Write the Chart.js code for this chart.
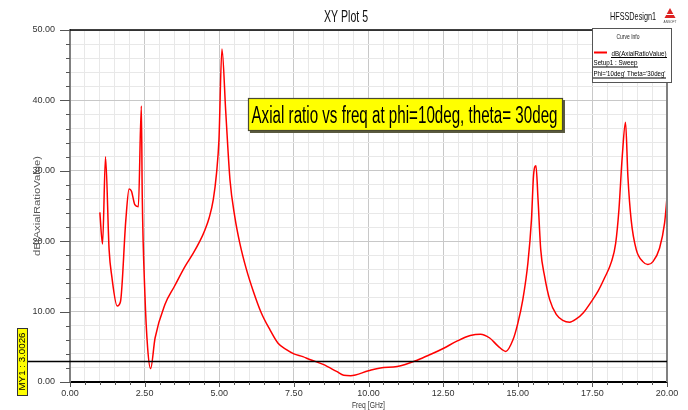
<!DOCTYPE html>
<html>
<head>
<meta charset="utf-8">
<title>XY Plot 5</title>
<script src="https://cdn.jsdelivr.net/npm/chart.js@4.4.1/dist/chart.umd.min.js"></script>
<style>
    html, body { margin: 0; padding: 0; background: #fff; }
    canvas { display: block; }
</style>
</head>
<body>
<canvas id="arChart" width="688" height="410"></canvas>
<script>
/* ============================================================
  DATA
============================================================ */
const freqGHz = [
    1.00, 1.09, 1.19, 1.31, 1.40, 1.58, 1.69, 1.87, 1.98, 2.06,
    2.17, 2.29, 2.39, 2.42, 2.51, 2.60, 2.70, 2.85, 3.18, 3.50, 3.85,
    4.13, 4.35, 4.52, 4.66, 4.80, 4.91, 4.99, 5.09, 5.22, 5.36,
    5.52, 5.69, 5.91, 6.14, 6.41, 6.70, 6.97, 7.25, 7.50, 7.80,
    8.03, 8.48, 8.93, 9.17, 9.40, 10.00, 10.40, 10.96, 11.63, 12.07,
    12.52, 12.96, 13.41, 13.75, 14.06, 14.34, 14.60, 14.84, 15.00, 15.17,
    15.34, 15.46, 15.53, 15.61, 15.68, 15.77, 15.90, 16.07, 16.29, 16.51,
    16.74, 16.96, 17.19, 17.47, 17.69, 17.91, 18.14, 18.28, 18.39, 18.50,
    18.61, 18.69, 18.80, 18.97, 19.19, 19.36, 19.53, 19.75, 19.92, 20.00
];
const axialRatioDb = [
    24.1, 19.6, 32.0, 18.8, 15.0, 10.8, 11.4, 23.0, 27.4, 27.1,
    25.2, 24.9, 39.2, 26.6, 12.4, 4.9, 1.9, 6.25, 11.0, 13.6, 16.4,
    18.3, 20.0, 21.6, 23.3, 25.9, 29.7, 34.4, 47.3, 38.2, 28.7,
    23.5, 19.7, 16.0, 12.9, 9.8, 7.4, 5.5, 4.6, 4.0, 3.6,
    3.2, 2.5, 1.5, 0.95, 0.9, 1.6, 2.0, 2.2, 3.1, 3.9,
    4.8, 5.8, 6.6, 6.8, 6.25, 5.1, 4.35, 6.0, 8.3, 11.7,
    16.9, 23.1, 29.4, 30.7, 25.9, 18.8, 15.0, 11.7, 9.6, 8.75,
    8.5, 8.95, 9.8, 11.45, 12.9, 14.8, 17.1, 19.7, 24.5, 32.0,
    36.9, 29.2, 23.0, 18.8, 17.1, 16.7, 17.1, 19.0, 22.6, 26.2
];

const xMajorTicks = [0, 2.5, 5, 7.5, 10, 12.5, 15, 17.5, 20];
const yMajorTicks = [0, 10, 20, 30, 40, 50];

const markerName = 'MY1';
const markerValue = 3.0026;

const plotTitle = 'XY Plot 5';
const designName = 'HFSSDesign1';
const noteText = 'Axial ratio vs freq at phi=10deg, theta= 30deg';
const curveName = 'dB(AxialRatioValue)';
const legendLines = ['Setup1 : Sweep', "Phi='10deg' Theta='30deg'"];

const FONT = '"Liberation Sans Narrow", "Liberation Sans", Arial, sans-serif';

/* ============================================================
  HELPERS
============================================================ */
// text squeezed to a given width (HFSS draws narrow glyphs)
function fitText(ctx, text, x, y, size, width, align = 'left', rot = 0) {
    ctx.font = `${size}px ${FONT}`;
    const w = ctx.measureText(text).width;
    ctx.save();
    ctx.translate(x, y);
    if (rot) ctx.rotate(rot);
    ctx.scale(width / w, 1);
    ctx.textAlign = align;
    ctx.textBaseline = 'alphabetic';
    ctx.fillText(text, 0, 0);
    ctx.restore();
}

function underline(ctx, x1, x2, y) {
    ctx.beginPath();
    ctx.moveTo(x1, y + 0.5);
    ctx.lineTo(x2, y + 0.5);
    ctx.stroke();
}

/* ============================================================
  OVERLAY (ticks, frame, marker, notes, legend)
============================================================ */
const overlay = {
    id: 'overlay',
    afterDatasetsDraw(chart) {
        const { ctx, chartArea: a, scales: { x, y } } = chart;
        ctx.save();

        // frame top + right
        ctx.strokeStyle = '#000';
        ctx.lineWidth = 1.5;
        ctx.beginPath();
        ctx.moveTo(a.left, a.top);
        ctx.lineTo(a.right + 1, a.top);
        ctx.stroke();
        ctx.strokeStyle = '#808080';
        ctx.lineWidth = 2;
        ctx.beginPath();
        ctx.moveTo(a.right, a.top);
        ctx.lineTo(a.right, a.bottom);
        ctx.stroke();

        // tick marks
        ctx.strokeStyle = '#555';
        ctx.lineWidth = 1;
        y.ticks.forEach(t => {
            const py = Math.round(y.getPixelForValue(t.value)) + 0.5;
            const len = yMajorTicks.includes(t.value) ? 10 : 4;
            ctx.beginPath();
            ctx.moveTo(a.left - len, py);
            ctx.lineTo(a.left, py);
            ctx.stroke();
        });
        x.ticks.forEach(t => {
            const px = Math.round(x.getPixelForValue(t.value)) + 0.5;
            const len = xMajorTicks.includes(t.value) ? 5 : 3;
            ctx.beginPath();
            ctx.moveTo(px, a.bottom);
            ctx.lineTo(px, a.bottom + len);
            ctx.stroke();
        });

        // marker line
        const my = Math.round(y.getPixelForValue(markerValue)) + 0.5;
        ctx.strokeStyle = '#000';
        ctx.lineWidth = 1.5;
        ctx.beginPath();
        ctx.moveTo(27, my);
        ctx.lineTo(a.right, my);
        ctx.stroke();

        // marker label
        ctx.fillStyle = '#ffff00';
        ctx.fillRect(17, 328, 10, 67);
        ctx.strokeStyle = '#333';
        ctx.lineWidth = 1;
        ctx.strokeRect(17.5, 328.5, 10, 67);
        ctx.fillStyle = '#000';
        fitText(ctx, `${markerName} : ${markerValue.toFixed(4)}`, 25, 361.5, 8.5, 58, 'center', -Math.PI / 2);

        // note box
        ctx.fillStyle = '#5a5a40';
        ctx.fillRect(250, 100, 315, 33);
        ctx.fillStyle = '#ffff00';
        ctx.fillRect(248, 98, 315, 33);
        ctx.strokeStyle = '#4a4a30';
        ctx.lineWidth = 1.2;
        ctx.strokeRect(248.5, 98.5, 314, 32);
        ctx.fillStyle = '#000';
        fitText(ctx, noteText, 251.5, 123, 23, 306);

        // legend box
        ctx.fillStyle = '#fff';
        ctx.fillRect(592, 28, 80, 55);
        ctx.strokeStyle = '#555';
        ctx.lineWidth = 1;
        ctx.strokeRect(592.5, 28.5, 79, 54);
        ctx.fillStyle = '#222';
        fitText(ctx, 'Curve Info', 628, 39, 8, 23, 'center');
        ctx.strokeStyle = '#ff0000';
        ctx.lineWidth = 2;
        ctx.beginPath();
        ctx.moveTo(594, 52.5);
        ctx.lineTo(607, 52.5);
        ctx.stroke();
        ctx.fillStyle = '#000';
        ctx.strokeStyle = '#000';
        ctx.lineWidth = 1;
        fitText(ctx, curveName, 611.5, 55.5, 8, 55);
        underline(ctx, 611, 667, 57);
        fitText(ctx, legendLines[0], 593.5, 65, 7.5, 44);
        underline(ctx, 593, 638, 66.5);
        fitText(ctx, legendLines[1], 593.5, 76, 7.5, 72);
        underline(ctx, 593, 666, 77.5);

        ctx.restore();
    },
    afterDraw(chart) {
        const { ctx, chartArea: a } = chart;
        ctx.save();

        ctx.fillStyle = '#111';
        fitText(ctx, plotTitle, 324, 21.7, 16, 44);
        fitText(ctx, designName, 610, 20, 11, 46);

        // logo
        ctx.fillStyle = '#d22';
        ctx.beginPath();
        ctx.moveTo(670, 8);
        ctx.lineTo(664.5, 18);
        ctx.lineTo(675.5, 18);
        ctx.closePath();
        ctx.fill();
        ctx.fillStyle = '#fff';
        ctx.fillRect(666, 14, 8, 1);
        ctx.fillStyle = '#444';
        fitText(ctx, 'ANSOFT', 670, 22.5, 4, 13, 'center');

        // axis titles
        ctx.fillStyle = '#555';
        fitText(ctx, curveName, 40, (a.top + a.bottom) / 2, 9, 100, 'center', -Math.PI / 2);
        ctx.fillStyle = '#333';
        fitText(ctx, 'Freq [GHz]', (a.left + a.right) / 2, 408, 9, 33, 'center');

        ctx.restore();
    }
};

/* ============================================================
  CHART
============================================================ */
const points = freqGHz.map((f, i) => ({ x: f, y: axialRatioDb[i] }));

new Chart(document.getElementById('arChart'), {
    type: 'scatter',
    data: {
        datasets: [{
            label: curveName,
            data: points,
            showLine: true,
            borderColor: '#ff0000',
            borderWidth: 1.5,
            pointRadius: 0,
            cubicInterpolationMode: 'monotone',
            fill: false
        }]
    },
    options: {
        responsive: false,
        animation: false,
        devicePixelRatio: 1,
        layout: { padding: { top: 30, right: 21, left: 0, bottom: 0 } },
        plugins: {
            legend: { display: false },
            tooltip: { enabled: false }
        },
        scales: {
            x: {
                type: 'linear',
                min: 0,
                max: 20,
                afterFit: s => { s.height = 28; },
                ticks: {
                    stepSize: 0.5,
                    autoSkip: false,
                    maxRotation: 0,
                    padding: 6,
                    color: '#333',
                    font: { family: FONT, size: 9 },
                    callback: v => xMajorTicks.includes(v) ? v.toFixed(2) : ''
                },
                grid: {
                    drawTicks: false,
                    color: c => xMajorTicks.includes(c.tick.value) ? '#c8c8c8' : '#e8e8e8',
                    lineWidth: 1
                },
                border: { color: '#000', width: 2 }
            },
            y: {
                type: 'linear',
                min: 0,
                max: 50,
                afterFit: s => { s.width = 70; },
                ticks: {
                    stepSize: 2,
                    autoSkip: false,
                    padding: 15,
                    color: '#333',
                    font: { family: FONT, size: 9 },
                    callback: v => yMajorTicks.includes(v) ? v.toFixed(2) : ''
                },
                grid: {
                    drawTicks: false,
                    color: c => yMajorTicks.includes(c.tick.value) ? '#c8c8c8' : '#e8e8e8',
                    lineWidth: 1
                },
                border: { color: '#808080', width: 2 }
            }
        }
    },
    plugins: [overlay]
});
</script>
</body>
</html>
